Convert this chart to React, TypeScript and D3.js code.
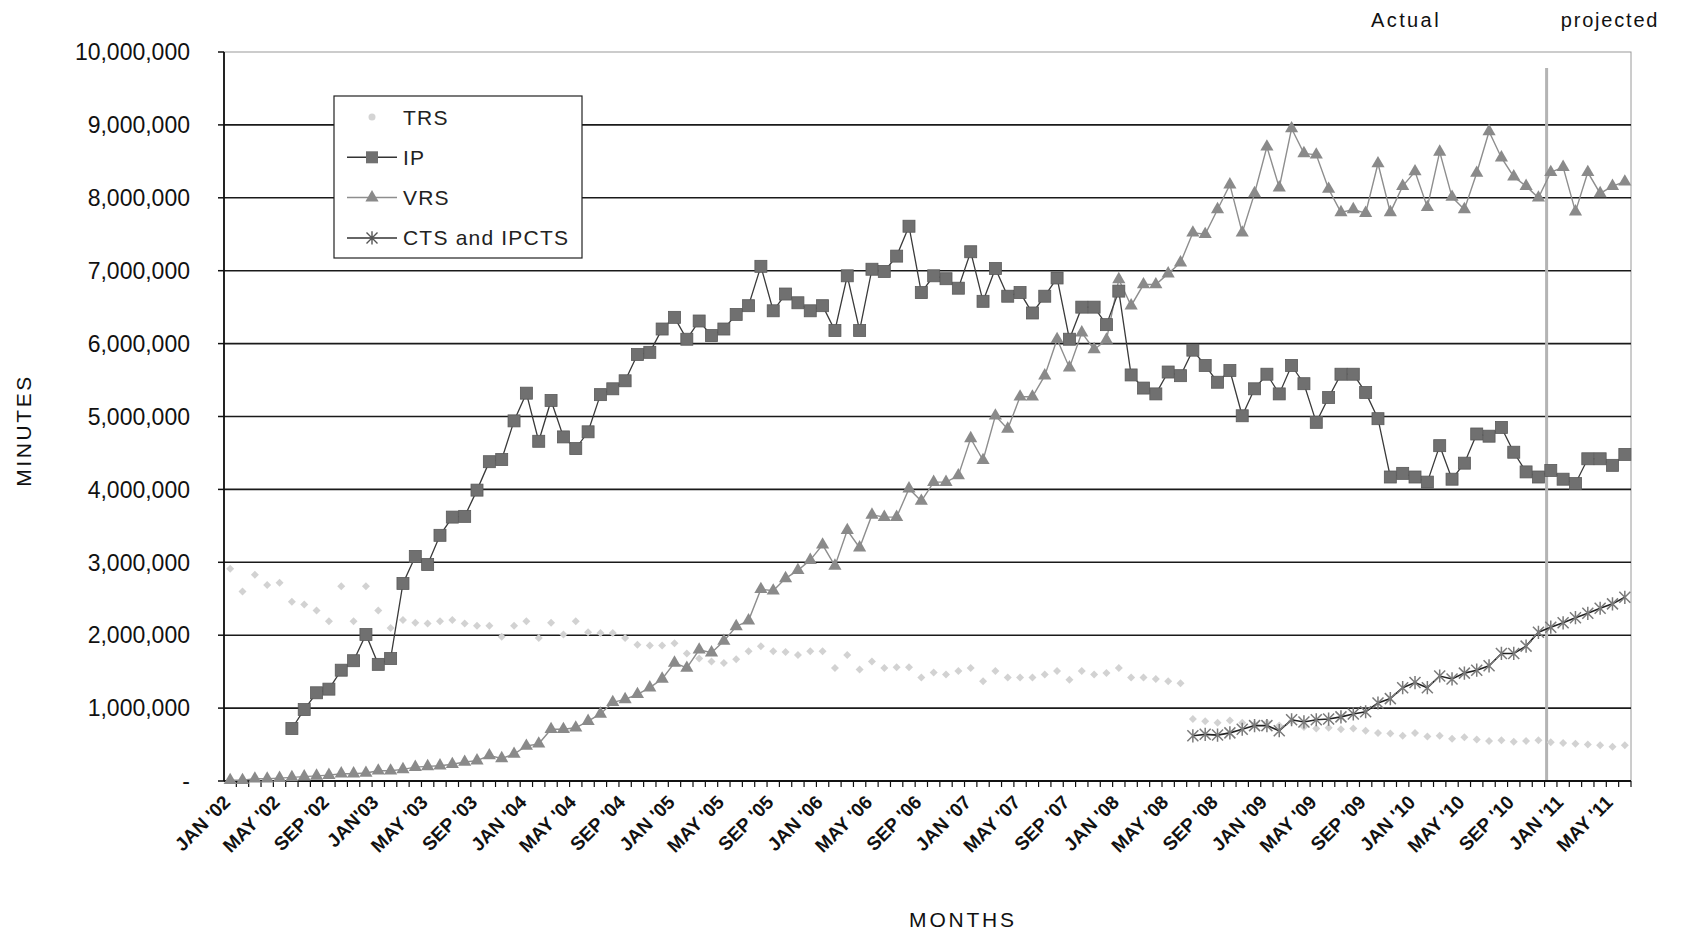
import React from "react";
import * as d3 from "d3";

const W = 1686;
const H = 933;
const plot = { left: 224, right: 1631, top: 52, bottom: 781 };

// Monthly categories, Jan 2002 through Jun 2011
const months: Date[] = d3.timeMonth.range(new Date(2002, 0, 1), new Date(2011, 6, 1));

const xTickLabels = [
  "JAN '02", "MAY '02", "SEP '02", "JAN'03", "MAY '03", "SEP '03", "JAN '04", "MAY '04",
  "SEP '04", "JAN '05", "MAY '05", "SEP '05", "JAN '06", "MAY '06", "SEP '06", "JAN '07",
  "MAY '07", "SEP '07", "JAN '08", "MAY '08", "SEP '08", "JAN '09", "MAY '09", "SEP '09",
  "JAN '10", "MAY '10", "SEP '10", "JAN '11", "MAY '11",
];
const xTickEvery = 4;

const yTicks = [0, 1, 2, 3, 4, 5, 6, 7, 8, 9, 10]; // millions of minutes

// Values in millions of minutes, one per month (null = no data)
const trs: (number | null)[] = [
  2.91, 2.60, 2.83, 2.69, 2.72, 2.46, 2.42, 2.34, 2.19, 2.67,
  2.19, 2.67, 2.34, 2.10, 2.21, 2.17, 2.16, 2.19, 2.21, 2.16,
  2.13, 2.13, 1.98, 2.13, 2.19, 1.96, 2.17, 2.01, 2.19, 2.04,
  2.03, 2.03, 1.96, 1.87, 1.86, 1.86, 1.89, 1.75, 1.68, 1.64,
  1.62, 1.67, 1.78, 1.85, 1.78, 1.77, 1.73, 1.78, 1.78, 1.55,
  1.73, 1.53, 1.64, 1.55, 1.56, 1.56, 1.42, 1.49, 1.46, 1.51,
  1.55, 1.37, 1.51, 1.42, 1.42, 1.42, 1.46, 1.51, 1.39, 1.51,
  1.46, 1.48, 1.55, 1.42, 1.42, 1.40, 1.37, 1.34,
  0.85, 0.82, 0.80, 0.83, 0.80, 0.78, 0.80, 0.76, 0.82, 0.74,
  0.72, 0.73, 0.71, 0.72, 0.69, 0.66, 0.65, 0.62, 0.66, 0.61,
  0.62, 0.58, 0.60, 0.57, 0.55, 0.56, 0.54, 0.55, 0.56, 0.53,
  0.52, 0.51, 0.50, 0.49, 0.47, 0.49,
];

const ip: (number | null)[] = [
  null, null, null, null, null,
  0.72, 0.98, 1.21, 1.26, 1.52, 1.65, 2.01, 1.60, 1.68, 2.71,
  3.08, 2.97, 3.37, 3.62, 3.63, 3.99, 4.38, 4.41, 4.94, 5.32,
  4.66, 5.22, 4.72, 4.56, 4.79, 5.30, 5.38, 5.49, 5.85, 5.88,
  6.20, 6.36, 6.06, 6.31, 6.11, 6.20, 6.40, 6.52, 7.06, 6.45,
  6.68, 6.56, 6.45, 6.52, 6.18, 6.93, 6.18, 7.02, 6.99, 7.20,
  7.61, 6.70, 6.93, 6.89, 6.76, 7.26, 6.58, 7.03, 6.65, 6.70,
  6.42, 6.65, 6.90, 6.06, 6.50, 6.50, 6.26, 6.72, 5.57, 5.39,
  5.31, 5.61, 5.56, 5.91, 5.70, 5.47, 5.63, 5.01, 5.38, 5.58,
  5.31, 5.70, 5.45, 4.92, 5.26, 5.58, 5.58, 5.33, 4.97, 4.17,
  4.22, 4.17, 4.10, 4.60, 4.14, 4.36, 4.76, 4.73, 4.85, 4.51,
  4.24, 4.17, 4.26, 4.14, 4.08, 4.42, 4.42, 4.33, 4.48,
];

const vrs: (number | null)[] = [
  0.01, 0.01, 0.03, 0.03, 0.04, 0.05, 0.06, 0.07, 0.08, 0.10,
  0.10, 0.11, 0.14, 0.14, 0.16, 0.19, 0.20, 0.21, 0.23, 0.26,
  0.28, 0.35, 0.31, 0.37, 0.48, 0.51, 0.71, 0.71, 0.73, 0.82,
  0.92, 1.08, 1.12, 1.19, 1.28, 1.40, 1.62, 1.55, 1.80, 1.76,
  1.92, 2.12, 2.20, 2.63, 2.61, 2.78, 2.89, 3.03, 3.24, 2.95,
  3.44, 3.20, 3.65, 3.62, 3.62, 4.01, 3.84, 4.10, 4.10, 4.19,
  4.70, 4.40, 5.01, 4.83, 5.27, 5.27, 5.56, 6.06, 5.67, 6.15,
  5.92, 6.05, 6.88, 6.52, 6.81, 6.81, 6.96, 7.11, 7.52, 7.50,
  7.84, 8.18, 7.52, 8.06, 8.70, 8.14, 8.95, 8.61, 8.59, 8.12,
  7.80, 7.84, 7.79, 8.47, 7.80, 8.16, 8.36, 7.87, 8.63, 8.01,
  7.84, 8.34, 8.91, 8.55, 8.29, 8.16, 8.00, 8.35, 8.42, 7.81,
  8.35, 8.06, 8.16, 8.22,
];

const cts: (number | null)[] = [
  ...Array(78).fill(null),
  0.62, 0.64, 0.63, 0.66, 0.71, 0.76, 0.76, 0.69, 0.84, 0.81,
  0.84, 0.85, 0.88, 0.92, 0.95, 1.07, 1.13, 1.28, 1.35, 1.28,
  1.44, 1.40, 1.48, 1.52, 1.58, 1.75, 1.75, 1.85, 2.04, 2.11,
  2.17, 2.24, 2.30, 2.37, 2.43, 2.52,
];

// First month of the projected period
const projectionMonth = new Date(2010, 11, 1);

const FONT = "'Liberation Sans', Arial, sans-serif";

type Pt = { i: number; v: number };

function points(series: (number | null)[]): Pt[] {
  return series
    .map((v, i) => (v == null ? null : { i, v }))
    .filter((d): d is Pt => d !== null);
}

const starPath = (s: number) =>
  `M${-s},${-s}L${s},${s}M${-s},${s}L${s},${-s}M0,${-s * 1.2}L0,${s * 1.2}`;

export default function App() {
  const x = d3
    .scaleBand<number>()
    .domain(months.map((m) => +m))
    .range([plot.left, plot.right])
    .padding(0);
  const bw = x.bandwidth();
  const cx = (i: number) => (x(+months[i]) as number) + bw / 2;

  const y = d3.scaleLinear().domain([0, 10]).range([plot.bottom, plot.top]);

  const line = d3
    .line<Pt>()
    .x((d) => cx(d.i))
    .y((d) => y(d.v));

  const trsPts = points(trs);
  const ipPts = points(ip);
  const vrsPts = points(vrs);
  const ctsPts = points(cts);

  const fmt = d3.format(",");
  const yLabel = (v: number) => (v === 0 ? "-" : fmt(v * 1e6));

  const triangle = d3.symbol().type(d3.symbolTriangle).size(75)() as string;
  const projX = (x(+projectionMonth) as number) + 2;

  const legendItems = [
    { name: "TRS", kind: "trs" },
    { name: "IP", kind: "ip" },
    { name: "VRS", kind: "vrs" },
    { name: "CTS and IPCTS", kind: "cts" },
  ];

  return (
    <svg
      width={W}
      height={H}
      viewBox={`0 0 ${W} ${H}`}
      style={{ position: "absolute", left: 0, top: 0, background: "#fff" }}
      fontFamily={FONT}
    >
      <rect x={0} y={0} width={W} height={H} fill="#fff" />

      {/* plot frame */}
      <rect
        x={plot.left}
        y={plot.top}
        width={plot.right - plot.left}
        height={plot.bottom - plot.top}
        fill="none"
        stroke="#9a9a9a"
        strokeWidth={1}
      />

      {/* horizontal gridlines */}
      {yTicks
        .filter((t) => t > 0 && t < 10)
        .map((t) => (
          <line
            key={`g${t}`}
            x1={plot.left}
            x2={plot.right}
            y1={y(t)}
            y2={y(t)}
            stroke="#1a1a1a"
            strokeWidth={1.6}
          />
        ))}

      {/* projection divider */}
      <line
        x1={projX}
        x2={projX}
        y1={68}
        y2={plot.bottom}
        stroke="#b4b4b4"
        strokeWidth={3}
      />

      {/* y axis */}
      <line x1={plot.left} x2={plot.left} y1={plot.top} y2={plot.bottom} stroke="#111" strokeWidth={1.8} />
      {yTicks.map((t) => (
        <g key={`yt${t}`}>
          <line x1={plot.left - 6} x2={plot.left} y1={y(t)} y2={y(t)} stroke="#111" strokeWidth={1.5} />
          <text
            x={190}
            y={y(t)}
            dy="0.36em"
            textAnchor="end"
            fontSize={23}
            fill="#111"
          >
            {yLabel(t)}
          </text>
        </g>
      ))}

      {/* x axis */}
      <line x1={plot.left} x2={plot.right} y1={plot.bottom} y2={plot.bottom} stroke="#111" strokeWidth={1.8} />
      {months.map((m, i) => (
        <line
          key={`xt${i}`}
          x1={(x(+m) as number) + bw}
          x2={(x(+m) as number) + bw}
          y1={plot.bottom}
          y2={plot.bottom + 6}
          stroke="#111"
          strokeWidth={1.2}
        />
      ))}
      {xTickLabels.map((lab, k) => {
        const i = k * xTickEvery;
        const px = cx(i) - 8;
        const py = plot.bottom + 13;
        return (
          <text
            key={`xl${k}`}
            transform={`translate(${px},${py}) rotate(-45)`}
            textAnchor="end"
            dy="0.7em"
            fontSize={19}
            fontWeight="bold"
            fill="#111"
          >
            {lab}
          </text>
        );
      })}

      {/* TRS: markers only */}
      {trsPts.map((d) => (
        <path
          key={`trs${d.i}`}
          d="M0,-4L4,0L0,4L-4,0Z"
          transform={`translate(${cx(d.i)},${y(d.v)})`}
          fill="#d2d2d2"
        />
      ))}

      {/* VRS */}
      <path d={line(vrsPts) as string} fill="none" stroke="#8e8e8e" strokeWidth={1.4} />
      {vrsPts.map((d) => (
        <path
          key={`vrs${d.i}`}
          d={triangle}
          transform={`translate(${cx(d.i)},${y(d.v)})`}
          fill="#8a8a8a"
        />
      ))}

      {/* IP */}
      <path d={line(ipPts) as string} fill="none" stroke="#3a3a3a" strokeWidth={1.3} />
      {ipPts.map((d) => (
        <rect
          key={`ip${d.i}`}
          x={cx(d.i) - 6}
          y={y(d.v) - 6}
          width={12}
          height={12}
          fill="#707070"
          stroke="#5a5a5a"
          strokeWidth={0.8}
        />
      ))}

      {/* CTS and IPCTS */}
      <path d={line(ctsPts) as string} fill="none" stroke="#222" strokeWidth={1.6} />
      {ctsPts.map((d) => (
        <path
          key={`cts${d.i}`}
          d={starPath(5.5)}
          transform={`translate(${cx(d.i)},${y(d.v)})`}
          stroke="#7a7a7a"
          strokeWidth={1.5}
          fill="none"
        />
      ))}

      {/* legend */}
      <g>
        <rect x={334} y={96} width={248} height={162} fill="#fff" stroke="#222" strokeWidth={1.2} />
        {legendItems.map((it, k) => {
          const ly = 117 + k * 40.3;
          return (
            <g key={it.name}>
              {it.kind !== "trs" && (
                <line
                  x1={347}
                  x2={397}
                  y1={ly}
                  y2={ly}
                  stroke={it.kind === "vrs" ? "#8e8e8e" : "#333"}
                  strokeWidth={1.5}
                />
              )}
              {it.kind === "trs" && <circle cx={372} cy={ly} r={3.5} fill="#d4d4d4" />}
              {it.kind === "ip" && <rect x={366} y={ly - 6} width={12} height={12} fill="#707070" />}
              {it.kind === "vrs" && (
                <path d={triangle} transform={`translate(${372},${ly})`} fill="#8a8a8a" />
              )}
              {it.kind === "cts" && (
                <path
                  d={starPath(5.5)}
                  transform={`translate(${372},${ly})`}
                  stroke="#555"
                  strokeWidth={1.4}
                  fill="none"
                />
              )}
              <text x={403} y={ly} dy="0.36em" fontSize={21} fill="#222" letterSpacing={1.2}>
                {it.name}
              </text>
            </g>
          );
        })}
      </g>

      {/* axis titles */}
      <text
        transform={`translate(31,${(plot.top + plot.bottom) / 2 + 14}) rotate(-90)`}
        textAnchor="middle"
        fontSize={21}
        letterSpacing={2.6}
        fill="#111"
      >
        MINUTES
      </text>
      <text x={963} y={927} textAnchor="middle" fontSize={21} letterSpacing={2.8} fill="#111">
        MONTHS
      </text>

      {/* period labels */}
      <text x={1406} y={27} textAnchor="middle" fontSize={20} letterSpacing={2.4} fill="#111">
        Actual
      </text>
      <text x={1610} y={27} textAnchor="middle" fontSize={20} letterSpacing={1.8} fill="#111">
        projected
      </text>
    </svg>
  );
}
